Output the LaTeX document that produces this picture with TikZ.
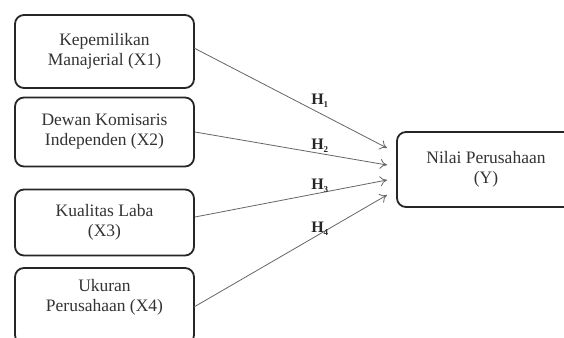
\documentclass[tikz,border=0pt]{standalone}
\usepackage{fontspec}
\setmainfont{Liberation Serif}
\usetikzlibrary{arrows.meta}
\begin{document}
\begin{tikzpicture}[x=1pt,y=-1pt,
  varbox/.style={draw=black!85, line width=1.8pt, rounded corners=9pt, fill=white, align=center,
    font=\fontsize{17.5}{20}\selectfont, inner sep=0pt, text=black!80},
  conn/.style={draw=black!60, line width=0.8pt, -{To[length=7pt,width=10pt]}},
  hlab/.style={font=\fontsize{16}{18}\selectfont\bfseries, text=black!85, inner sep=0pt}]
\clip (0,0) rectangle (564,337);
\fill[white] (0,0) rectangle (564,337);
\node[varbox, minimum width=179pt, minimum height=73pt] (x1) at (104.5,51.5) {Kepemilikan\\Manajerial (X1)};
\node[varbox, minimum width=179pt, minimum height=69pt] (x2) at (104.5,132) {Dewan Komisaris\\Independen (X2)};
\node[varbox, minimum width=179pt, minimum height=66pt] (x3) at (104.5,222.5) {Kualitas Laba\\(X3)};
\node[varbox, minimum width=179pt, minimum height=76pt, text depth=0pt] (x4) at (104.5,306) {Ukuran\\Perusahaan (X4)\\[2pt]};
\node[varbox, minimum width=178pt, minimum height=75pt] (y) at (486,169.5) {Nilai Perusahaan\\(Y)};
\coordinate (t1) at (387,148);
\coordinate (t2) at (387,165);
\coordinate (t3) at (387,180);
\coordinate (t4) at (387,195);
\coordinate (s1) at (194,48);
\coordinate (s2) at (195,132);
\coordinate (s3) at (195,217);
\coordinate (s4) at (194,307);
\draw[conn] (s1) -- (t1);
\draw[conn] (s2) -- (t2);
\draw[conn] (s3) -- (t3);
\draw[conn] (s4) -- (t4);
\node[hlab] (h1) at (320,101) {H\textsubscript{\fontsize{9}{10}\selectfont 1}};
\node[hlab] (h2) at (320,146) {H\textsubscript{\fontsize{9}{10}\selectfont 2}};
\node[hlab] (h3) at (320,186) {H\textsubscript{\fontsize{9}{10}\selectfont 3}};
\node[hlab] (h4) at (320,229) {H\textsubscript{\fontsize{9}{10}\selectfont 4}};
\end{tikzpicture}
\end{document}
